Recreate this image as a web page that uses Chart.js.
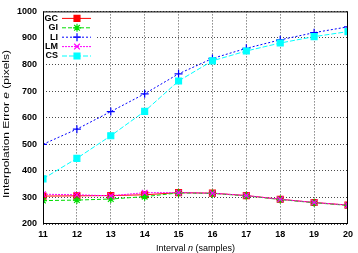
<!DOCTYPE html>
<html lang="en">
<head>
    <meta charset="UTF-8">
    <title>Interpolation Error</title>
    <script src="https://cdn.jsdelivr.net/npm/chart.js"></script>
    <style>
        body {
            margin: 0;
            background-color: #ffffff;
        }

        #chart {
            display: block;
        }
    </style>
</head>
<body>
<canvas id="chart" width="358" height="253"></canvas>

<script>
    // values
    const intervals = [11, 12, 13, 14, 15, 16, 17, 18, 19, 20];
    const yTicks = [200, 300, 400, 500, 600, 700, 800, 900, 1000];
    const seriesNames = ['GC', 'GI', 'LI', 'LM', 'CS'];
    const gcValues = [305, 306, 307, 310, 318, 316, 307, 293, 281, 271];
    const giValues = [288, 290, 294, 303, 317, 315, 306, 292, 280, 270];
    const liValues = [500, 557, 623, 690, 765, 823, 861, 893, 920, 942];
    const lmValues = [312, 310, 306, 318, 318, 316, 307, 293, 281, 271];
    const csValues = [370, 447, 532, 624, 738, 814, 851, 881, 905, 924];

    const fontFamily = 'Liberation Sans, Arial, sans-serif';
    const tickFont = {family: fontFamily, size: 9, weight: 'bold'};

    function series(label, values, color, dash, style, radius, order) {
        return {
            label: label,
            data: intervals.map((x, i) => ({x: x, y: values[i]})),
            borderColor: color,
            backgroundColor: color,
            borderWidth: 1,
            borderDash: dash,
            pointStyle: style,
            pointRadius: radius,
            pointBorderWidth: 1.2,
            pointBorderColor: color,
            pointBackgroundColor: color,
            tension: 0,
            order: order
        };
    }

    const datasets = [
        series(seriesNames[0], gcValues, '#ff0000', [], 'rect', 4.2, 5),
        series(seriesNames[1], giValues, '#00dd00', [4, 2], 'star', 4, 4),
        series(seriesNames[2], liValues, '#0000ff', [2, 2], 'cross', 4, 3),
        series(seriesNames[3], lmValues, '#ff00ff', [2, 1], 'crossRot', 4, 2),
        series(seriesNames[4], csValues, '#00ffff', [5, 2], 'rect', 4.2, 1)
    ];

    // frame, in-plot legend and axis titles with italic symbols
    const decorations = {
        id: 'decorations',
        afterDraw(chart) {
            const ctx = chart.ctx;
            const area = chart.chartArea;
            ctx.save();

            // legend box
            const boxX = area.left, boxY = area.top;
            ctx.fillStyle = '#ffffff';
            ctx.fillRect(boxX + 0.5, boxY + 0.5, 52, 51);
            ctx.font = 'bold 9px ' + fontFamily;
            ctx.textAlign = 'right';
            ctx.textBaseline = 'middle';
            chart.data.datasets.forEach((ds, i) => {
                const y = boxY + 7 + i * 9.4;
                ctx.fillStyle = '#000000';
                ctx.fillText(ds.label, boxX + 15, y);
                ctx.strokeStyle = ds.borderColor;
                ctx.lineWidth = 1;
                ctx.setLineDash(ds.borderDash);
                ctx.beginPath();
                ctx.moveTo(boxX + 19, y);
                ctx.lineTo(boxX + 48, y);
                ctx.stroke();
                ctx.setLineDash([]);
                ctx.fillStyle = ds.borderColor;
                ctx.lineWidth = 1.2;
                Chart.helpers.drawPoint(ctx, {
                    pointStyle: ds.pointStyle,
                    radius: ds.pointRadius,
                    rotation: 0,
                    borderWidth: 1.2
                }, boxX + 34, y);
            });

            // frame
            ctx.strokeStyle = '#000000';
            ctx.lineWidth = 1;
            ctx.strokeRect(area.left + 0.5, area.top + 0.5, area.right - area.left - 1, area.bottom - area.top - 1);

            // axis titles
            ctx.fillStyle = '#000000';
            ctx.textAlign = 'left';
            ctx.textBaseline = 'alphabetic';
            const normal = '9px ' + fontFamily;
            const italic = 'italic 9px ' + fontFamily;
            function partsWidth(parts) {
                let total = 0;
                parts.forEach(p => {
                    ctx.font = p[1] ? italic : normal;
                    total += ctx.measureText(p[0]).width;
                });
                return total;
            }
            function drawParts(parts, x, y) {
                parts.forEach(p => {
                    ctx.font = p[1] ? italic : normal;
                    ctx.fillText(p[0], x, y);
                    x += ctx.measureText(p[0]).width;
                });
            }
            const xTitle = [['Interval ', false], ['n', true], [' (samples)', false]];
            drawParts(xTitle, (area.left + area.right) / 2 - partsWidth(xTitle) / 2, 250.5);

            // the y title is stretched along its length in the reference
            const yTitle = [['Interpolation Error ', false], ['e', true], [' (pixels)', false]];
            const yWidth = partsWidth(yTitle);
            ctx.translate(9, 124);
            ctx.rotate(-Math.PI / 2);
            ctx.scale(148 / yWidth, 1);
            drawParts(yTitle, -yWidth / 2, 0);
            ctx.restore();
        }
    };

    new Chart(document.getElementById('chart').getContext('2d'), {
        type: 'line',
        data: {datasets: datasets},
        options: {
            responsive: false,
            animation: false,
            layout: {padding: {top: 4, right: 5, left: 0, bottom: 0}},
            plugins: {
                legend: {display: false},
                tooltip: {enabled: false}
            },
            scales: {
                x: {
                    type: 'linear',
                    min: intervals[0],
                    max: intervals[intervals.length - 1],
                    afterBuildTicks: axis => {
                        axis.ticks = intervals.map(v => ({value: v}));
                    },
                    afterFit: axis => {
                        axis.height = 29;
                    },
                    ticks: {color: '#000000', font: tickFont, padding: 5, maxRotation: 0,
                        callback: v => String(v)},
                    grid: {color: '#4a4a4a', lineWidth: 1, drawTicks: false},
                    border: {display: false, dash: [1, 2]}
                },
                y: {
                    min: yTicks[0],
                    max: yTicks[yTicks.length - 1],
                    afterBuildTicks: axis => {
                        axis.ticks = yTicks.map(v => ({value: v}));
                    },
                    afterFit: axis => {
                        axis.width = 43;
                    },
                    ticks: {color: '#000000', font: tickFont, padding: 6,
                        callback: v => String(v)},
                    grid: {color: '#4a4a4a', lineWidth: 1, drawTicks: false},
                    border: {display: false, dash: [1, 2]}
                }
            }
        },
        plugins: [decorations]
    });
</script>
</body>
</html>
